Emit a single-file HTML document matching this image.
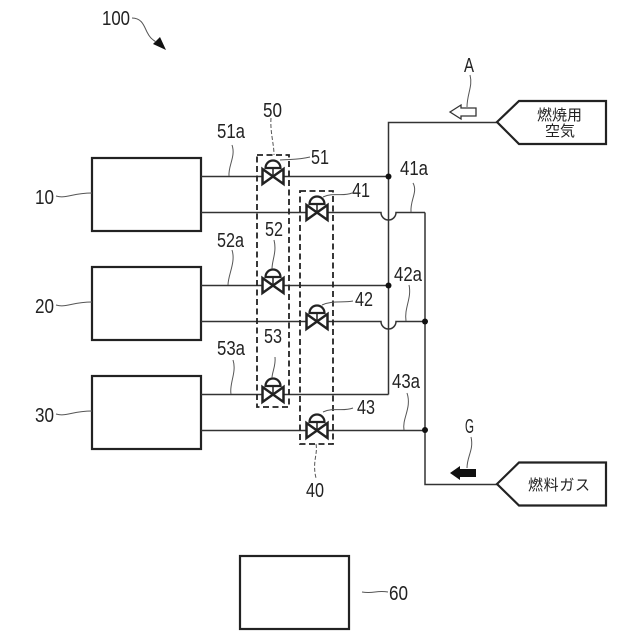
<!DOCTYPE html>
<html><head><meta charset="utf-8"><style>
html,body{margin:0;padding:0;background:#fff}
svg{display:block}
text{font-family:"Liberation Sans","Noto Sans CJK JP",sans-serif;fill:#222}
.n{font-size:20px}
.j{font-size:15px}
</style></head><body>
<svg width="640" height="640" viewBox="0 0 640 640" xmlns="http://www.w3.org/2000/svg">
<defs>
<g id="v">
<path d="M-10.500-7.500V7.500L10.500-7.500V7.500Z" fill="#fff" stroke="#222" stroke-width="2.500" stroke-linejoin="miter"/>
<path d="M0 0V-8" stroke="#222" stroke-width="1.500"/>
<path d="M-7.500-8.500A7.500 7.500 0 0 1 7.500-8.500Z" fill="#fff" stroke="#222" stroke-width="2.200"/>
</g>
</defs>
<g fill="#fff" stroke="#222" stroke-width="2.200">
<rect x="92" y="158" width="109" height="73"/>
<rect x="92" y="267" width="109" height="73"/>
<rect x="92" y="376" width="109" height="73"/>
<rect x="240" y="556" width="109" height="73"/>
</g>
<g fill="none" stroke="#333" stroke-width="1.500">
<path d="M201 176.500H388M201 285.500H388M201 394.500H388.500"/>
<path d="M201 212.500H381A7.500 7.500 0 0 0 396 212.500H425M201 321.500H381A7.500 7.500 0 0 0 396 321.500H425M201 430.500H425"/>
<path d="M497 122.500H388.500V394.500"/>
<path d="M425 212.500V484.500H497"/>
</g>
<g fill="#111">
<circle cx="388.500" cy="176.500" r="3"/><circle cx="388.500" cy="285.500" r="3"/>
<circle cx="425" cy="321.500" r="3"/><circle cx="425" cy="430" r="3"/>
</g>
<g fill="none" stroke="#222" stroke-width="1.800" stroke-dasharray="6 3.500">
<rect x="257" y="155" width="32" height="252"/>
<rect x="300" y="191" width="33" height="253"/>
</g>
<use href="#v" x="273" y="176.500"/><use href="#v" x="273" y="285.500"/><use href="#v" x="273" y="394.500"/>
<use href="#v" x="317" y="212.500"/><use href="#v" x="317" y="321.500"/><use href="#v" x="317" y="430.500"/>
<g fill="#fff" stroke="#222" stroke-width="2.200">
<path d="M497 122 519 101H606V144H519Z"/>
<path d="M497 484 519 462.500H606V505.500H519Z"/>
</g>
<path d="M450 112 461 105V108H476V116H461V119Z" fill="#fff" stroke="#333" stroke-width="1.300"/>
<path d="M450 473 460 466V469H476V477H460V480Z" fill="#111"/>
<path d="M166 50 153 44 160 37Z" fill="#111"/>
<g fill="none" stroke="#555" stroke-width="1">
<path d="M132 18C142 18 144 26 147 32S152 39 156 42"/>
<path d="M56 196C66 199 72 193 92 193"/>
<path d="M56 305C66 308 72 302 92 302"/>
<path d="M56 414C66 417 72 411 92 411"/>
<path d="M232 145C236 156 228 166 229 176"/>
<path d="M232 250C236 262 228 275 228 285"/>
<path d="M233 360C237 372 229 384 231 394"/>
<path d="M271 118C270 132 274 144 274 155" stroke-dasharray="4 2"/>
<path d="M280 160C292 159 298 160 310 157"/>
<path d="M274 240C277 252 272 260 272 269"/>
<path d="M275 357C276 366 272 372 272 378"/>
<path d="M323 197C334 192 342 197 352 193"/>
<path d="M322 305C334 300 342 303 353 301"/>
<path d="M323 412C334 407 342 412 353 408"/>
<path d="M316 444C318 454 312 462 316 478" stroke-dasharray="4 2"/>
<path d="M413 183C418 192 410 200 411 212"/>
<path d="M409 285C412 298 404 308 406 321"/>
<path d="M407 393C412 408 402 418 404 430"/>
<path d="M470 75C473 86 467 94 467 107"/>
<path d="M471 437C474 450 467 456 467 468"/>
<path d="M362 592C374 594 376 590 388 592"/>
</g>
<g class="n">
<text x="102" y="25" textLength="28" lengthAdjust="spacingAndGlyphs">100</text>
<text x="35" y="204" textLength="19" lengthAdjust="spacingAndGlyphs">10</text>
<text x="35" y="313" textLength="19" lengthAdjust="spacingAndGlyphs">20</text>
<text x="35" y="422" textLength="19" lengthAdjust="spacingAndGlyphs">30</text>
<text x="217" y="138" textLength="28" lengthAdjust="spacingAndGlyphs">51a</text>
<text x="217" y="247" textLength="27" lengthAdjust="spacingAndGlyphs">52a</text>
<text x="217" y="355" textLength="28" lengthAdjust="spacingAndGlyphs">53a</text>
<text x="263" y="117" textLength="19" lengthAdjust="spacingAndGlyphs">50</text>
<text x="311" y="164" textLength="18" lengthAdjust="spacingAndGlyphs">51</text>
<text x="265" y="236" textLength="18" lengthAdjust="spacingAndGlyphs">52</text>
<text x="264" y="343" textLength="18" lengthAdjust="spacingAndGlyphs">53</text>
<text x="352" y="197" textLength="18" lengthAdjust="spacingAndGlyphs">41</text>
<text x="355" y="306" textLength="18" lengthAdjust="spacingAndGlyphs">42</text>
<text x="357" y="414" textLength="18" lengthAdjust="spacingAndGlyphs">43</text>
<text x="306" y="497" textLength="18" lengthAdjust="spacingAndGlyphs">40</text>
<text x="400" y="175" textLength="28" lengthAdjust="spacingAndGlyphs">41a</text>
<text x="394" y="281" textLength="28" lengthAdjust="spacingAndGlyphs">42a</text>
<text x="392" y="388" textLength="28" lengthAdjust="spacingAndGlyphs">43a</text>
<text x="389" y="600" textLength="19" lengthAdjust="spacingAndGlyphs">60</text>
<text x="464" y="72" textLength="10" lengthAdjust="spacingAndGlyphs">A</text>
<text x="465" y="433" textLength="9" lengthAdjust="spacingAndGlyphs">G</text>
</g>
<g class="j">
<text x="537" y="120" textLength="45" lengthAdjust="spacing">燃焼用</text>
<text x="545" y="136" textLength="30" lengthAdjust="spacing">空気</text>
<text x="528" y="490" textLength="62" lengthAdjust="spacing">燃料ガス</text>
</g>
</svg>
</body></html>
